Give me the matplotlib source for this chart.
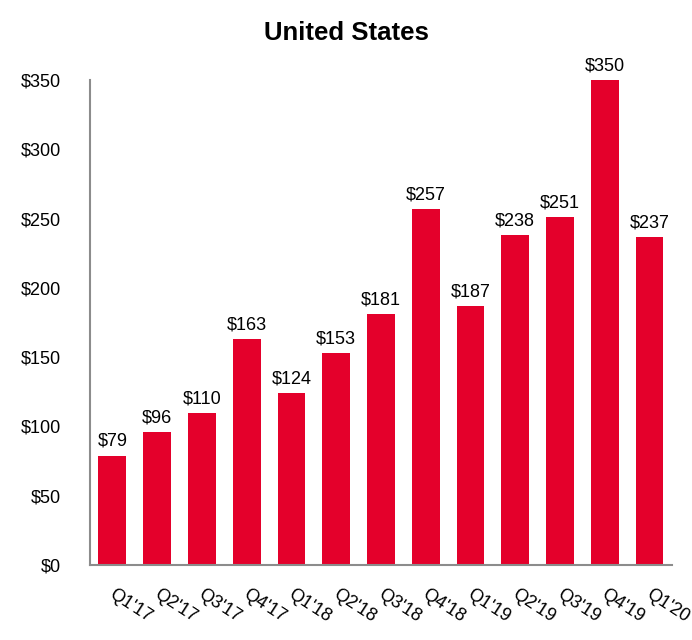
import matplotlib
matplotlib.use("Agg")
import matplotlib.pyplot as plt
import matplotlib.transforms as mtransforms

plt.rcParams['font.family'] = ['Liberation Sans', 'DejaVu Sans']

quarters = ["Q1'17", "Q2'17", "Q3'17", "Q4'17", "Q1'18", "Q2'18", "Q3'18",
            "Q4'18", "Q1'19", "Q2'19", "Q3'19", "Q4'19", "Q1'20"]
values = [79, 96, 110, 163, 124, 153, 181, 257, 187, 238, 251, 350, 237]
yticks = [0, 50, 100, 150, 200, 250, 300, 350]

fig = plt.figure(figsize=(6.92, 6.4), dpi=100)
ax = fig.add_axes([0.130, 0.1172, 0.841, 0.7578])

x = list(range(len(quarters)))
ax.bar(x, values, width=0.62, color='#E4002B', zorder=2)
for xi, v in zip(x, values):
    ax.annotate(f"${v}", (xi, v), xytext=(0, 4), textcoords='offset points',
                ha='center', va='bottom', fontsize=13, color='black')

ax.set_xlim(-0.5, 12.5)
ax.set_ylim(0, 350)
ax.set_yticks(yticks)
ax.set_yticklabels([f"${t}" for t in yticks], fontsize=13)
ax.set_xticks(x)
ax.set_xticklabels(quarters, fontsize=13, rotation=-33, ha='left', va='top',
                   rotation_mode='anchor')
ax.tick_params(axis='both', length=0)
ax.tick_params(axis='x', pad=15)
ax.tick_params(axis='y', pad=21)
offset = mtransforms.ScaledTranslation(3 / 100, 0, fig.dpi_scale_trans)
for lbl in ax.get_xticklabels():
    lbl.set_transform(lbl.get_transform() + offset)

for s in ['top', 'right']:
    ax.spines[s].set_visible(False)
for s in ['left', 'bottom']:
    ax.spines[s].set_color('#8c8c8c')
    ax.spines[s].set_linewidth(1.5)

fig.text(0.5, 0.948, "United States", ha='center', va='center',
         fontsize=18.5, fontweight='bold')

fig.savefig("out.png", dpi=100)
